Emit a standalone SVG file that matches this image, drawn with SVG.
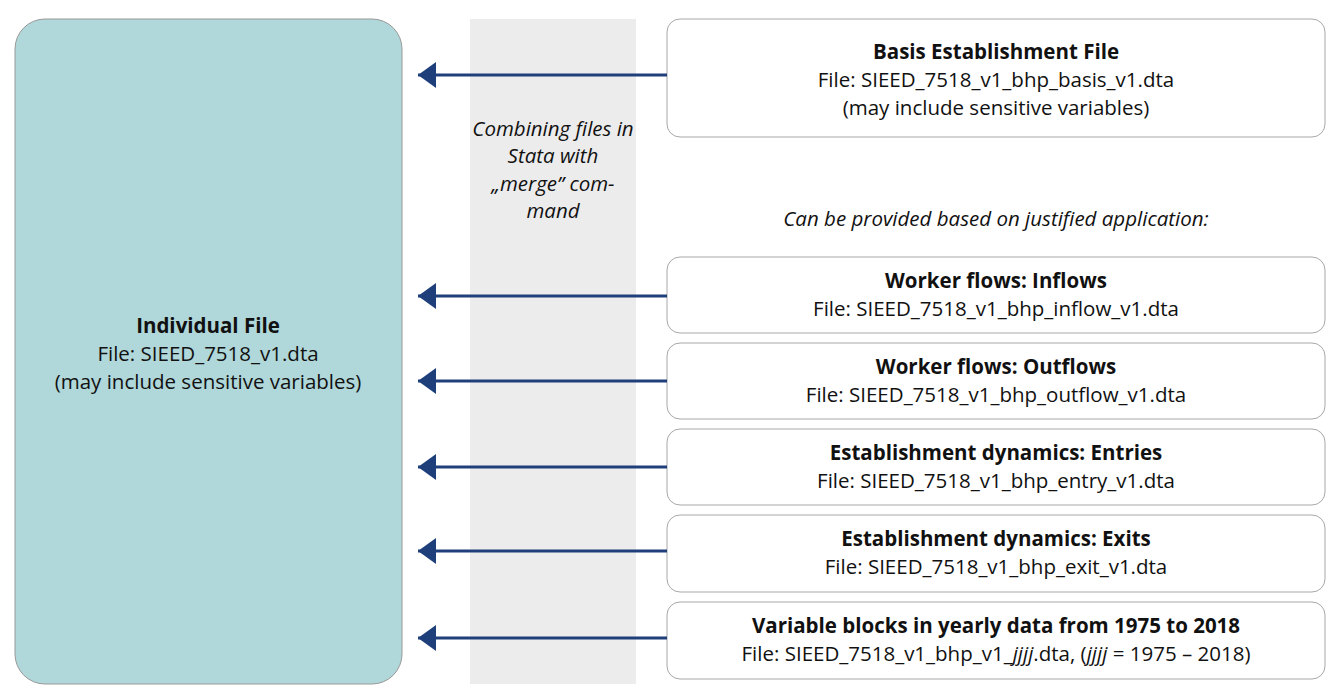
<svg xmlns="http://www.w3.org/2000/svg" width="1342" height="696" viewBox="0 0 1342 696">
<style>
text{font-family:"Open Sans","Liberation Sans",sans-serif;font-size:20.5px;fill:#111;text-anchor:middle}
.b{font-weight:bold}
.i{font-style:italic}
.box{fill:#fff;stroke:#a8a8a8;stroke-width:1}
.conn{stroke:#1f3f7a;stroke-width:3;fill:none;marker-end:url(#ah)}
</style>
<defs>
<marker id="ah" markerUnits="userSpaceOnUse" markerWidth="20" markerHeight="26" refX="18" refY="13" orient="auto">
<path d="M18,13 L0,0 L0,26 Z" fill="#1f3f7a"/>
</marker>
</defs>
<rect x="470" y="19" width="166" height="665" fill="#ececec"/>
<g id="individual">
<rect x="15" y="19" width="387" height="665" rx="30" fill="#b0d7d9" stroke="#999" stroke-width="1"/>
<text x="208" y="333" class="b">Individual File</text>
<text x="208" y="361">File: SIEED_7518_v1.dta</text>
<text x="208" y="389">(may include sensitive variables)</text>
</g>
<g id="merge-note">
<text x="553" y="136" class="i">Combining files in</text>
<text x="553" y="163" class="i">Stata with</text>
<text x="553" y="191" class="i">„merge” com-</text>
<text x="553" y="218" class="i">mand</text>
</g>
<g id="basis">
<rect class="box" x="667" y="19" width="658" height="118" rx="13"/>
<text x="996" y="59" class="b">Basis Establishment File</text>
<text x="996" y="87">File: SIEED_7518_v1_bhp_basis_v1.dta</text>
<text x="996" y="115">(may include sensitive variables)</text>
</g>
<text x="996" y="226" class="i">Can be provided based on justified application:</text>
<g id="inflow">
<rect class="box" x="667" y="257" width="658" height="76" rx="13"/>
<text x="996" y="288" class="b">Worker flows: Inflows</text>
<text x="996" y="316">File: SIEED_7518_v1_bhp_inflow_v1.dta</text>
</g>
<g id="outflow">
<rect class="box" x="667" y="343" width="658" height="76" rx="13"/>
<text x="996" y="374" class="b">Worker flows: Outflows</text>
<text x="996" y="402">File: SIEED_7518_v1_bhp_outflow_v1.dta</text>
</g>
<g id="entry">
<rect class="box" x="667" y="429" width="658" height="76" rx="13"/>
<text x="996" y="460" class="b">Establishment dynamics: Entries</text>
<text x="996" y="488">File: SIEED_7518_v1_bhp_entry_v1.dta</text>
</g>
<g id="exit">
<rect class="box" x="667" y="515" width="658" height="77" rx="13"/>
<text x="996" y="546" class="b">Establishment dynamics: Exits</text>
<text x="996" y="574">File: SIEED_7518_v1_bhp_exit_v1.dta</text>
</g>
<g id="yearly">
<rect class="box" x="667" y="602" width="658" height="77" rx="13"/>
<text x="996" y="633" class="b">Variable blocks in yearly data from 1975 to 2018</text>
<text x="996" y="661">File: SIEED_7518_v1_bhp_v1_<tspan class="i">jjjj</tspan>.dta, (<tspan class="i">jjjj</tspan> = 1975 – 2018)</text>
</g>
<g id="connectors">
<line class="conn" x1="667" y1="75" x2="418" y2="75"/>
<line class="conn" x1="667" y1="296" x2="418" y2="296"/>
<line class="conn" x1="667" y1="381" x2="418" y2="381"/>
<line class="conn" x1="667" y1="467" x2="418" y2="467"/>
<line class="conn" x1="667" y1="551" x2="418" y2="551"/>
<line class="conn" x1="667" y1="638" x2="418" y2="638"/>
</g>
</svg>
